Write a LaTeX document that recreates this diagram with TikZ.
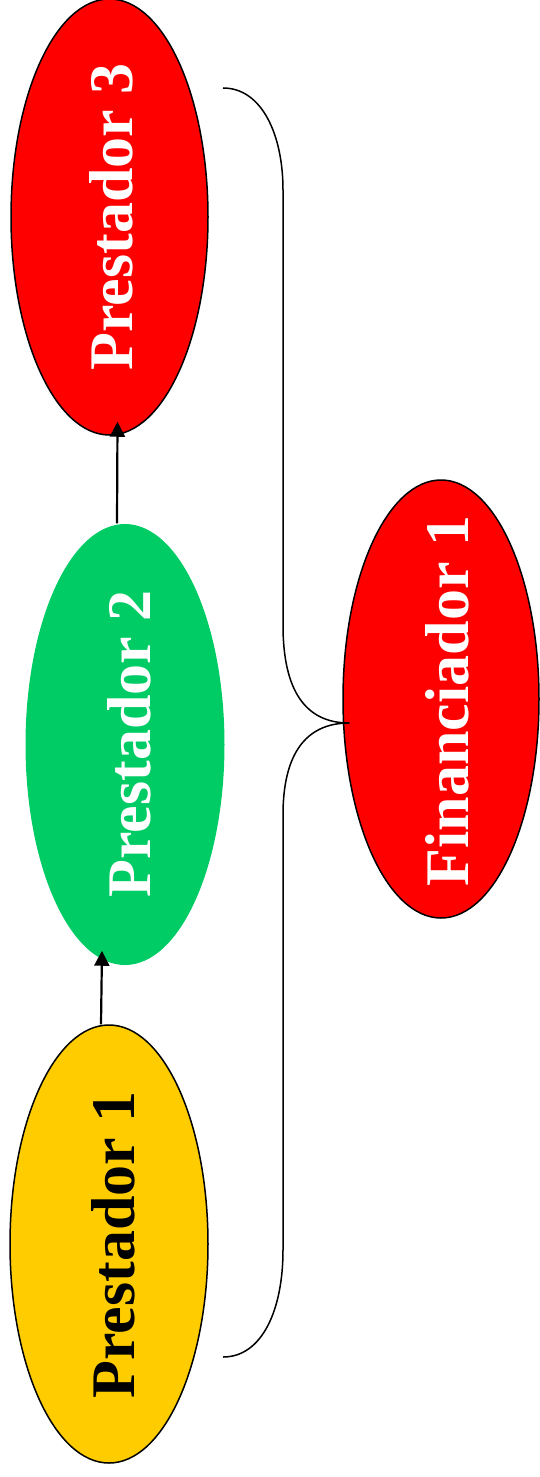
\documentclass[tikz,border=0pt]{standalone}
\usepackage{fontspec}
\setmainfont{Liberation Serif}
\usetikzlibrary{shapes.geometric,arrows.meta,calc}
\definecolor{cred}{HTML}{FF0000}
\definecolor{cgreen}{HTML}{00CC66}
\definecolor{cyellow}{HTML}{FFCC00}
\begin{document}
\begin{tikzpicture}[x=1pt,y=-1pt,
  oval/.style={ellipse,inner sep=0pt,line width=1.5pt},
  lbl/.style={rotate=90,anchor=base,font=\fontsize{62}{62}\selectfont\bfseries},
  arr/.style={line width=2.2pt,-{Triangle[width=15pt,length=15pt]}},
  brace/.style={line width=1.5pt}]
\useasboundingbox (0,0) rectangle (539,1477);
\node[oval,draw,fill=cred,minimum width=197pt,minimum height=436pt] (p3) at (109.5,217) {};
\node[oval,fill=cgreen,minimum width=199pt,minimum height=441pt] (p2) at (125,744.5) {};
\node[oval,draw,fill=cyellow,minimum width=198pt,minimum height=438pt] (p1) at (109,1244) {};
\node[oval,draw,fill=cred,minimum width=196pt,minimum height=438pt] (fin) at (441,699) {};
\node[lbl,text=white] (t3) at (132,217) {Prestador 3};
\node[lbl,text=white] (t2) at (150,744) {Prestador 2};
\node[lbl,text=black] (t1) at (134,1245) {Prestador 1};
\node[lbl,text=white] (tf) at (468,701) {Financiador 1};
\draw[arr] ($(p1.north)+(-8,0)$) -- ($(p2.south)+(-23,-15)$);
\draw[arr] ($(p2.north)+(-8,0)$) -- ($(p3.south)+(8,-14)$);
\coordinate (btop) at (223,88);
\coordinate (bbot) at (223,1357);
\coordinate (btip) at ($(fin.west)+(7,24)$);
\draw[brace] (btop) .. controls (262,88) and (283,135) .. (283,190) -- (283,625)
  .. controls (283,690) and (305,723) .. (btip);
\draw[brace] (btip) .. controls (305,723) and (283,755) .. (283,815) -- (283,1250)
  .. controls (283,1310) and (262,1357) .. (bbot);
\end{tikzpicture}
\end{document}
